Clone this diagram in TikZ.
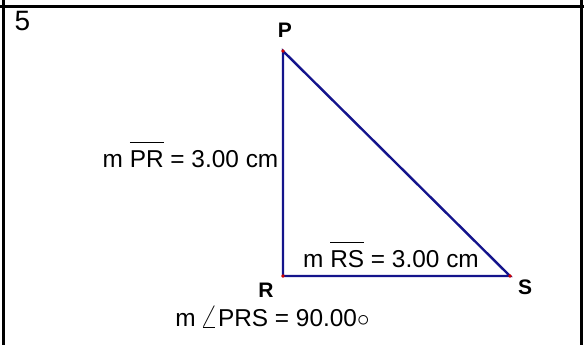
\documentclass[tikz,border=0pt]{standalone}
\usepackage{fontspec}
\setmainfont{Liberation Sans}
\usepackage{tikz}
\definecolor{SketchSegColor}{RGB}{20,20,140}
\definecolor{SketchPtColor}{RGB}{210,0,0}
\newcommand{\segbar}[1]{$\overline{\rule{0pt}{24pt}\mbox{#1}}$}
\begin{document}
\begin{tikzpicture}[x=1pt,y=1pt,
  seg/.style={SketchSegColor,line width=2.4pt},
  pt/.style={circle,fill=SketchPtColor,inner sep=0pt,minimum size=3.6pt},
  ptlbl/.style={font=\fontsize{21}{24}\selectfont\bfseries,inner sep=0pt},
  msr/.style={font=\fontsize{24.4}{28}\selectfont,inner sep=0pt,anchor=base}]
\useasboundingbox (0,0) rectangle (584,345);
% frame of the cell
\draw[line width=2.6pt] (0,338.5) -- (584,338.5);
\draw[line width=2.6pt] (3.5,0) -- (3.5,345);
\draw[line width=2.6pt] (581.5,0) -- (581.5,345);
\node[font=\fontsize{28}{32}\selectfont,inner sep=0pt] (num) at (22.5,324) {5};
% triangle
\coordinate (P) at (283,294);
\coordinate (R) at (283,69);
\coordinate (S) at (510,69);
\draw[seg] (P) -- (R) -- (S) -- cycle;
\foreach \v in {P,R,S} {
  \node[pt] (dot\v) at (\v) {};
}
\node[ptlbl] (lblP) at (285,315) {P};
\node[ptlbl] (lblR) at (266,55) {R};
\node[ptlbl] (lblS) at (525,58) {S};
% measurements
\node[msr] (mPR) at (190.5,177) {m \segbar{PR} = 3.00 cm};
\node[msr] (mRS) at (391,77) {m \segbar{RS} = 3.00 cm};
\node[msr] (mPRS) at (272.5,18) {m\,\scalebox{1.35}{$\angle$}PRS = 90.00$\circ$};
\end{tikzpicture}
\end{document}
